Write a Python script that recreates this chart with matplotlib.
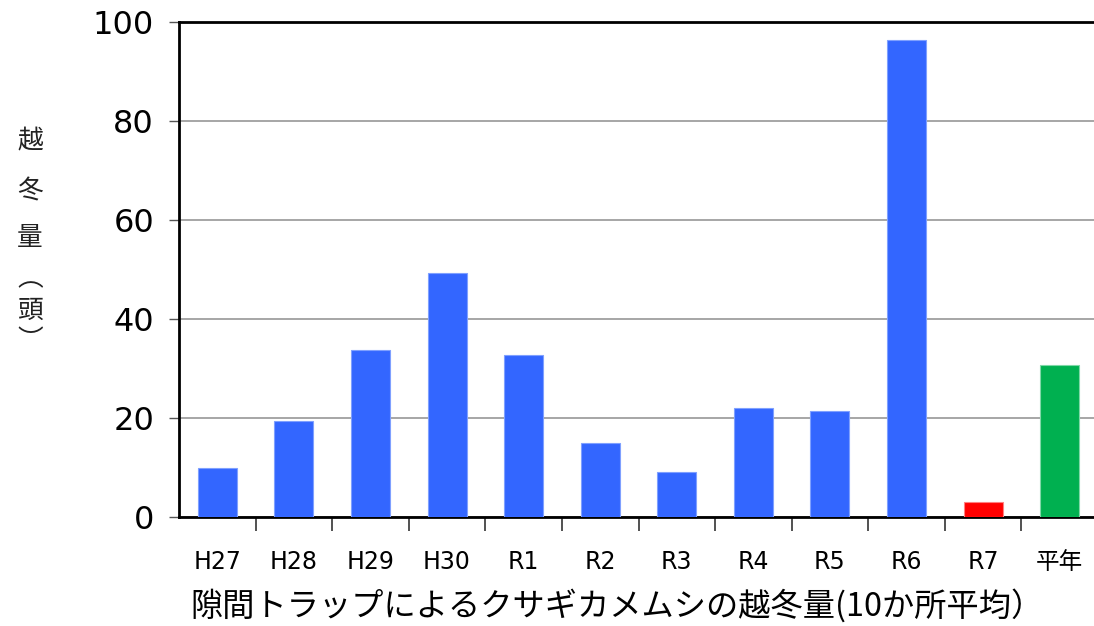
import matplotlib
matplotlib.use("Agg")
import matplotlib.pyplot as plt
import numpy as np

categories = ["H27", "H28", "H29", "H30", "R1", "R2", "R3", "R4", "R5", "R6", "R7", "平年"]
values = [9.9, 19.4, 33.7, 49.2, 32.7, 14.9, 9.1, 22.0, 21.4, 96.4, 3.1, 30.8]
bar_colors = ["#3366FF"] * 10 + ["#FF0000", "#00B050"]
edge_colors = ["#7FA0FF"] * 10 + ["#FF8080", "#80D8A8"]
yticks = [0, 20, 40, 60, 80, 100]
xlabel = "隙間トラップによるクサギカメムシの越冬量(10か所平均）"
ylabel_chars = ["越", "冬", "量", "︵", "頭", "︶"]

plt.rcParams['font.family'] = ['Noto Sans CJK JP', 'DejaVu Sans']

W, H = 1094, 626
fig = plt.figure(figsize=(W / 100, H / 100), dpi=100)
left, right, top, bottom = 179, 1098, 22, 517
ax = fig.add_axes([left / W, (H - bottom) / H, (right - left) / W, (bottom - top) / H])

x = np.arange(len(categories))
ax.bar(x, values, width=0.51, color=bar_colors, edgecolor=edge_colors, linewidth=0.8, zorder=3)

ax.set_xlim(-0.5, len(categories) - 0.5)
ax.set_ylim(0, 100)
ax.set_yticks(yticks)
ax.set_yticklabels([str(v) for v in yticks], fontfamily='DejaVu Sans', fontsize=23)
ax.grid(axis='y', color='#A6A6A6', linewidth=1.4, zorder=0)
ax.tick_params(axis='y', length=7, width=1, color='#555555', pad=11)

ax.set_xticks(x)
ax.set_xticklabels(categories, fontsize=17, fontfamily=['DejaVu Sans', 'Noto Sans CJK JP'])
ax.tick_params(axis='x', which='major', length=0, pad=24)
ax.set_xticks(np.arange(len(categories)) + 0.5, minor=True)
ax.tick_params(axis='x', which='minor', length=10, width=1.2, color='#333333')

for s in ['left', 'bottom', 'top']:
    ax.spines[s].set_linewidth(2)
    ax.spines[s].set_color('black')
ax.spines['right'].set_visible(False)

fig.text(617 / W, 1 - 606 / H, xlabel, fontsize=23.2, ha='center', va='center')

ypos = [141, 191, 238, 279, 311, 341]
for ch, yp in zip(ylabel_chars, ypos):
    fig.text(30 / W, 1 - yp / H, ch, fontsize=18.5, ha='center', va='center', color='#222222')

fig.savefig("out.png", dpi=100)
